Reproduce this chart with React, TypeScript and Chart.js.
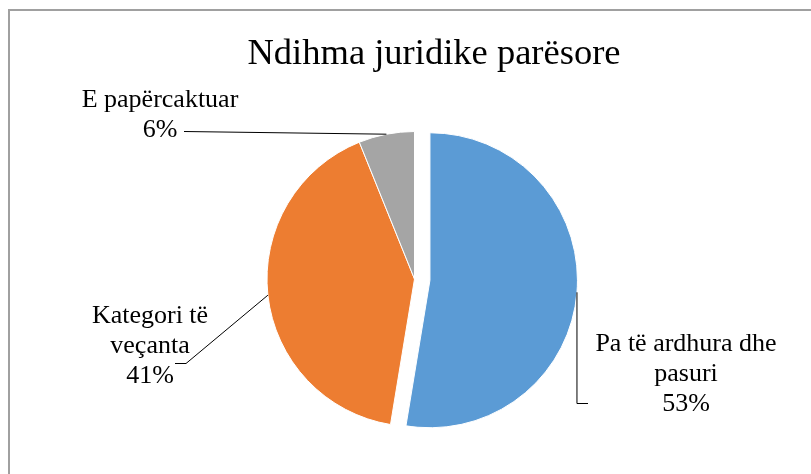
import React, { useEffect, useRef } from "react";
import { Chart, ArcElement, PieController } from "chart.js";

Chart.register(ArcElement, PieController);

// ---- data ----
const chartTitle = "Ndihma juridike parësore";
const categories = ["Pa të ardhura dhe pasuri", "Kategori të veçanta", "E papërcaktuar"];
const values = [52.6, 41.3, 6.1];
const percentLabels = ["53%", "41%", "6%"];
const categoryLines = [["Pa të ardhura dhe", "pasuri"], ["Kategori të", "veçanta"], ["E papërcaktuar"]];
const colors = ["#5B9BD5", "#ED7D31", "#A5A5A5"];
const explode = [15.5, 0, 0];

// ---- layout (not data) ----
const FONT = '"Liberation Serif", "Times New Roman", serif';
const TITLE_SIZE = 36.5;
const LABEL_SIZE = 26;
const LINE_H = 30;
const labelPlace = [
  { cx: 686, baseline: 351 },
  { cx: 150, baseline: 323 },
  { cx: 160, baseline: 107 },
];
type P = { x: number; y: number };
const leaderRoutes: ((a: P) => P[])[] = [
  (a) => [{ x: a.x, y: 403.5 }, { x: 588, y: 403.5 }],
  () => [{ x: 186, y: 363.5 }, { x: 175, y: 363.5 }],
  () => [{ x: 184, y: 131.5 }],
];

const explodePlugin = {
  id: "explodeSlices",
  afterDatasetUpdate(chart: any, args: any) {
    const meta = chart.getDatasetMeta(args.index);
    meta.data.forEach((arc: any, i: number) => {
      const d = explode[i] || 0;
      if (!d) return;
      const mid = (arc.startAngle + arc.endAngle) / 2;
      arc.x += Math.cos(mid) * d;
      arc.y += Math.sin(mid) * d;
    });
  },
};

const labelPlugin = {
  id: "pieLabels",
  afterDraw(chart: any) {
    const ctx = chart.ctx as CanvasRenderingContext2D;
    const meta = chart.getDatasetMeta(0);
    ctx.save();
    ctx.fillStyle = "#000";
    ctx.textAlign = "center";
    ctx.textBaseline = "alphabetic";
    ctx.font = `${TITLE_SIZE}px ${FONT}`;
    ctx.fillText(chartTitle, 434, 64);

    ctx.font = `${LABEL_SIZE}px ${FONT}`;
    meta.data.forEach((arc: any, i: number) => {
      const { x, y, startAngle, endAngle, outerRadius } = arc;
      const mid = (startAngle + endAngle) / 2;
      const a = {
        x: x + Math.cos(mid) * outerRadius,
        y: y + Math.sin(mid) * outerRadius,
      };
      const pts = [a, ...leaderRoutes[i](a)];
      ctx.beginPath();
      ctx.strokeStyle = "#000";
      ctx.lineWidth = 1;
      pts.forEach((p, k) => (k === 0 ? ctx.moveTo(p.x, p.y) : ctx.lineTo(p.x, p.y)));
      ctx.stroke();

      const lines = [...categoryLines[i], percentLabels[i]];
      const pl = labelPlace[i];
      lines.forEach((s, k) => ctx.fillText(s, pl.cx, pl.baseline + k * LINE_H));
    });
    ctx.restore();
  },
};

export default function App() {
  const ref = useRef<HTMLCanvasElement | null>(null);
  useEffect(() => {
    if (!ref.current) return;
    const chart = new Chart(ref.current, {
      type: "pie",
      data: {
        labels: categories,
        datasets: [
          {
            data: values,
            backgroundColor: colors,
            borderColor: "#ffffff",
            borderWidth: 1,
          },
        ],
      },
      options: {
        responsive: false,
        animation: false,
        radius: 147.5,
        layout: { padding: { left: 100, right: 82, top: 140, bottom: 56 } },
        plugins: { legend: { display: false }, tooltip: { enabled: false } },
        events: [],
      } as any,
      plugins: [explodePlugin, labelPlugin],
    });
    return () => chart.destroy();
  }, []);
  return (
    <div
      style={{
        position: "fixed",
        left: 0,
        top: 0,
        width: 811,
        height: 474,
        overflow: "hidden",
        background: "#fff",
      }}
    >
      <div
        style={{
          position: "absolute",
          left: 8,
          top: 9,
          width: 1000,
          height: 1000,
          borderTop: "2px solid #a0a0a0",
          borderLeft: "2px solid #a0a0a0",
        }}
      />
      <canvas
        ref={ref}
        width={811}
        height={474}
        style={{ position: "absolute", left: 0, top: 0, width: 811, height: 474 }}
      />
    </div>
  );
}
